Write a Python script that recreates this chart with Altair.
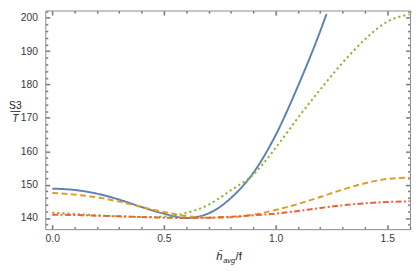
import altair as alt
import pandas as pd

# ---- data ----
series_names = ["s1", "s2", "s3", "s4"]
series_colors = ["#5E81B5", "#E19C24", "#8FB032", "#EB6235"]
series_dashes = [[1, 0], [6, 3.5], [2.2, 3], [6, 2.5, 2, 2.5]]

blue_x = [0.0, 0.1, 0.2, 0.3, 0.4, 0.5, 0.6, 0.7, 0.8, 0.9, 1.0, 1.1, 1.2, 1.228]
blue_y = [148.8, 148.4, 147.3, 145.5, 143.3, 141.3, 140.0, 141.4, 146.0, 153.5, 164.8, 179.5, 196.0, 201.1]

grid_x = [0.0, 0.1, 0.2, 0.3, 0.4, 0.5, 0.6, 0.7, 0.8, 0.9, 1.0, 1.1, 1.2, 1.3, 1.4, 1.5, 1.6]
orange_y = [147.5, 147.0, 146.2, 144.9, 143.3, 141.8, 140.6, 140.1, 140.2, 141.0, 142.4, 144.2, 146.3, 148.5, 150.4, 151.7, 152.1]
green_y = [141.6, 141.2, 140.8, 140.5, 140.3, 140.4, 141.5, 144.0, 148.3, 153.0, 161.0, 170.0, 178.5, 186.5, 193.5, 198.8, 201.0]
red_y = [141.0, 140.9, 140.7, 140.5, 140.3, 140.1, 140.0, 140.1, 140.4, 140.8, 141.3, 142.1, 143.0, 143.8, 144.4, 144.8, 145.0]

x_domain = [-0.0314, 1.602]
y_domain = [136.65, 202.15]
x_major = [0.0, 0.5, 1.0, 1.5]
x_minor = [0.1, 0.2, 0.3, 0.4, 0.6, 0.7, 0.8, 0.9, 1.1, 1.2, 1.3, 1.4, 1.6]
y_major = [140, 150, 160, 170, 180, 190, 200]
y_minor = [138, 142, 144, 146, 148, 152, 154, 156, 158, 162, 164, 166, 168,
           172, 174, 176, 178, 182, 184, 186, 188, 192, 194, 196, 198, 202]

W, H = 372, 223
FONT = "Liberation Sans"
LABEL = "#3a3a3a"

rows = []
for xv, yv in zip(blue_x, blue_y):
    rows.append({"series": "s1", "x": xv, "y": yv})
for name, yvals in (("s2", orange_y), ("s3", green_y), ("s4", red_y)):
    for xv, yv in zip(grid_x, yvals):
        rows.append({"series": name, "x": xv, "y": yv})
df = pd.DataFrame(rows)

xs = alt.Scale(domain=x_domain, nice=False, zero=False)
ys = alt.Scale(domain=y_domain, nice=False, zero=False)


def ax(**kw):
    d = dict(grid=False, domain=False, ticks=False, labels=False, title=None)
    d.update(kw)
    return alt.Axis(**d)


lines = alt.Chart(df).mark_line(strokeWidth=2, interpolate="monotone", clip=True).encode(
    x=alt.X("x:Q", scale=xs, axis=ax(
        orient="bottom", labels=True, values=x_major, format=".1f", labelFont=FONT,
        labelFontSize=10.5, labelColor=LABEL, labelPadding=5,
        title="ĥ", titleFont=FONT, titleFontSize=11.5, titleFontStyle="italic",
        titleFontWeight="normal", titleColor="#222", titleX=174, titleY=31,
        titleAlign="left", titleBaseline="alphabetic")),
    y=alt.Y("y:Q", scale=ys, axis=ax(
        orient="left", labels=True, values=y_major, format="d", labelFont=FONT,
        labelFontSize=10.5, labelColor=LABEL, labelPadding=8,
        title="S3", titleFont=FONT, titleFontSize=10.5, titleFontWeight="normal",
        titleColor="#222", titleAngle=0, titleX=-31, titleY=100, titleAlign="center",
        titleBaseline="alphabetic")),
    color=alt.Color("series:N", scale=alt.Scale(domain=series_names, range=series_colors), legend=None),
    strokeDash=alt.StrokeDash("series:N", scale=alt.Scale(domain=series_names, range=series_dashes), legend=None),
)


def ghost(xaxis, yaxis):
    return alt.Chart(df).mark_point(opacity=0, size=1).encode(
        x=alt.X("x:Q", scale=xs, axis=xaxis),
        y=alt.Y("y:Q", scale=ys, axis=yaxis),
    )


# inward-pointing ticks: axes moved to the opposite edge with a negative offset
bottom_in = dict(orient="top", offset=-H)
top_in = dict(orient="bottom", offset=-H)
left_in = dict(orient="right", offset=-W)
right_in = dict(orient="left", offset=-W)

layers = [
    lines,
    ghost(
        ax(orient="bottom", title="avg", titleFont=FONT, titleFontSize=7.5,
           titleFontStyle="italic", titleFontWeight="normal", titleColor="#222",
           titleX=181, titleY=34, titleAlign="left", titleBaseline="alphabetic"),
        ax(orient="left", title="—", titleFont=FONT, titleFontSize=10.5,
           titleFontWeight="normal", titleColor="#222", titleAngle=0, titleX=-31,
           titleY=105.5, titleAlign="center", titleBaseline="alphabetic"),
    ),
    ghost(
        ax(orient="bottom", title="/f", titleFont=FONT, titleFontSize=11.5,
           titleFontWeight="normal", titleColor="#222", titleX=193.5, titleY=31,
           titleAlign="left", titleBaseline="alphabetic"),
        ax(orient="left", title="T", titleFont=FONT, titleFontSize=10.5,
           titleFontStyle="italic", titleFontWeight="normal", titleColor="#222",
           titleAngle=0, titleX=-31, titleY=113, titleAlign="center",
           titleBaseline="alphabetic"),
    ),
]

# two passes: a wide light tick and a thinner darker one on top
for width, colour in ((2, "#c4c4c4"), (1.2, "#7a7a7a")):
    tk = dict(ticks=True, tickColor=colour, tickWidth=width)
    layers += [
        ghost(ax(values=x_major, tickSize=4.5, **bottom_in, **tk),
              ax(values=y_major, tickSize=4.5, **left_in, **tk)),
        ghost(ax(values=x_minor, tickSize=2.5, **bottom_in, **tk),
              ax(values=y_minor, tickSize=2.5, **left_in, **tk)),
        ghost(ax(values=x_major, tickSize=4.5, **top_in, **tk),
              ax(values=y_major, tickSize=4.5, **right_in, **tk)),
        ghost(ax(values=x_minor, tickSize=2.5, **top_in, **tk),
              ax(values=y_minor, tickSize=2.5, **right_in, **tk)),
    ]

chart = alt.layer(*layers).resolve_axis(x="independent", y="independent").properties(
    width=W, height=H,
    autosize=alt.AutoSizeParams(type="none"),
    padding={"left": 38, "top": 0, "right": 2, "bottom": 37},
).configure_view(stroke="#8a8a8a", strokeWidth=1)

chart.save("out.html", embed_options={"renderer": "svg", "actions": False})
